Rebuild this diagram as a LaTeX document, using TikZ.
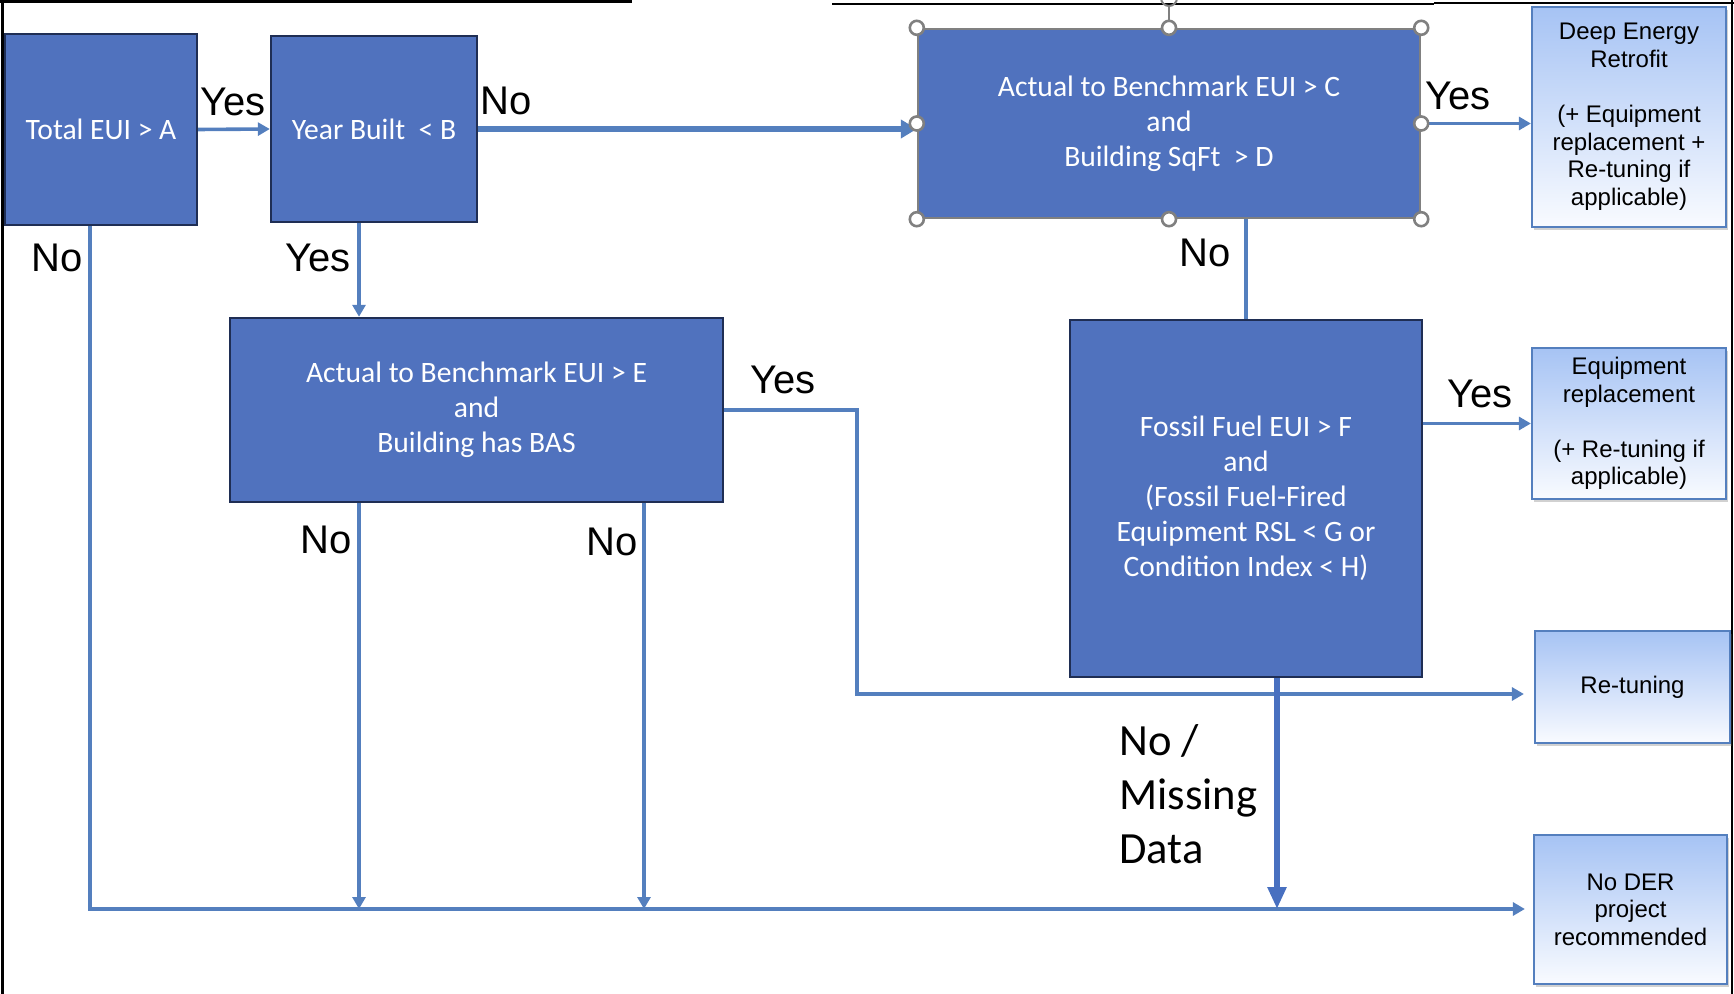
\documentclass[tikz,border=0pt]{standalone}
\usepackage{fontspec}
\setmainfont{Carlito}
\newfontfamily\arialfont{Liberation Sans}
\usepackage{tikz}
\usetikzlibrary{arrows.meta,calc,shadows}
\definecolor{BoxBlue}{RGB}{80,114,190}
\definecolor{BoxEdge}{RGB}{31,46,84}
\definecolor{LineBlue}{RGB}{84,127,190}
\definecolor{ArrowBlue}{RGB}{72,112,192}
\definecolor{EndTop}{RGB}{166,195,244}
\definecolor{EndBottom}{RGB}{249,251,255}
\definecolor{HandleGray}{RGB}{128,128,128}

\tikzset{
  test/.style={draw=BoxEdge, line width=1.2pt, fill=BoxBlue, text=white, align=center,
    font=\fontsize{14.8}{17.5}\selectfont, inner sep=0pt},
  outcome/.style={draw=LineBlue, line width=1.1pt, top color=EndTop, bottom color=EndBottom,
    align=center, font=\arialfont\fontsize{12}{13.8}\selectfont, inner sep=0pt,
    drop shadow={shadow xshift=1.2pt, shadow yshift=-1.5pt, opacity=0.3, fill=black!60}},
  conn/.style={LineBlue, line width=1.8pt, -{Triangle[length=6pt,width=6.5pt]}},
  lbl/.style={font=\arialfont\fontsize{20}{24}\selectfont, inner sep=0pt},
  handle/.style={draw=HandleGray, line width=1.3pt, fill=white},
}

\begin{document}
\begin{tikzpicture}[x=0.5pt, y=-0.5pt]
    \useasboundingbox (0,0) rectangle (1734,994);
    %%Frame
    \draw[line width=1.5pt] (2,0) to (2,994);
    \draw[line width=1.5pt] (0,2) to (632,2);
    \draw[line width=0.6pt] (832,4) to (1434,4);
    \draw[line width=1.1pt] (1434,3) to (1734,3);
    \draw[line width=1pt] (1732,0) to (1732,994);
    %%Tests
    \node[test, minimum width=96pt, minimum height=95.5pt] (tot) at (101,129.5) {Total EUI > A};
    \node[test, minimum width=103pt, minimum height=93pt] (yb) at (374,129) {Year Built~~< B};
    \node[test, draw=HandleGray, minimum width=251pt, minimum height=94.5pt] (cbox) at (1169,123.5)
      {Actual to Benchmark EUI > C\\ and\\ Building SqFt~~> D};
    \node[test, minimum width=246.5pt, minimum height=92pt] (ebox) at (476.5,410)
      {Actual to Benchmark EUI > E\\ and\\ Building has BAS};
    \node[test, minimum width=176pt, minimum height=178.5pt] (ffuel) at (1246,498.5)
      {Fossil Fuel EUI > F\\ and\\ (Fossil Fuel-Fired\\ Equipment RSL < G or\\ Condition Index < H)};
    %%Outcomes
    \node[outcome, minimum width=97pt, minimum height=110pt] (der) at (1629,117)
      {Deep Energy\\ Retrofit\\[13.8pt] (+ Equipment\\ replacement +\\ Re-tuning if\\ applicable)};
    \node[outcome, minimum width=97pt, minimum height=75.5pt] (equip) at (1629,423.5)
      {Equipment\\ replacement\\[13.8pt] (+ Re-tuning if\\ applicable)};
    \node[outcome, minimum width=97.5pt, minimum height=56pt] (retune) at (1632.5,687) {Re-tuning};
    \node[outcome, minimum width=96.5pt, minimum height=74.5pt] (noder) at (1630.5,909.5)
      {No DER\\ project\\ recommended};
    %%Connectors
    \coordinate (bl) at (90,909);
    \coordinate (ldrop) at (359,909);
    \coordinate (rdrop) at (644,909);
    \coordinate (eyes) at (857,694);
    \coordinate (fdown) at (1277,909);
    \draw[conn] (tot.east) to (yb.west);
    \draw[conn, line width=2.6pt, -{Triangle[length=8pt,width=9pt]}] (yb.east) to (yb.east -| cbox.west);
    \draw[conn] (cbox.east) to (cbox.east -| der.west);
    \draw[LineBlue, line width=2pt] (ffuel.north |- cbox.south) to (ffuel.north);
    \draw[conn] (equip.west -| ffuel.east) to (equip.west);
    \draw[conn, shorten >=5pt] (ebox.east) -| (eyes) -- (eyes -| retune.west);
    \draw[conn] (ldrop |- yb.south) to (ldrop |- ebox.north);
    \draw[conn] (ldrop |- ebox.south) to (ldrop);
    \draw[conn] (rdrop |- ebox.south) to (rdrop);
    \draw[conn, shorten >=4pt] (bl |- tot.south) -- (bl) -- (bl -| noder.west);
    \draw[ArrowBlue, line width=3pt, -{Triangle[length=11pt,width=9pt]}] (fdown |- ffuel.south) to (fdown);
    %%Labels
    \draw
    (233,102) node[lbl](ytot){Yes}
    (57,258) node[lbl](ntot){No}
    (506,101) node[lbl](nyb){No}
    (318,258) node[lbl](yyb){Yes}
    (1458,96) node[lbl](ycbox){Yes}
    (1205,253) node[lbl](ncbox){No}
    (783,380) node[lbl](yebox){Yes}
    (326,540) node[lbl](nebox){No}
    (612,542) node[lbl](nebox2){No}
    (1480,394) node[lbl](yffuel){Yes}
    (1119,794) node[anchor=west, align=left, inner sep=0pt,
      font=\fontsize{22.3}{27}\selectfont](nffuel){No /\\ Missing\\ Data}
    ;
    %%Selection handles
    \draw[HandleGray, line width=1pt] (cbox.north) to ++(0,-22);
    \begin{scope}
      \clip (0,0) rectangle (1734,994);
      \draw[HandleGray, line width=1pt] (1169,-2) circle (4pt);
    \end{scope}
    \foreach \a in {north west,north,north east,east,south east,south,south west,west}
      \draw[handle] (cbox.\a) circle (3.5pt);
\end{tikzpicture}
\end{document}
